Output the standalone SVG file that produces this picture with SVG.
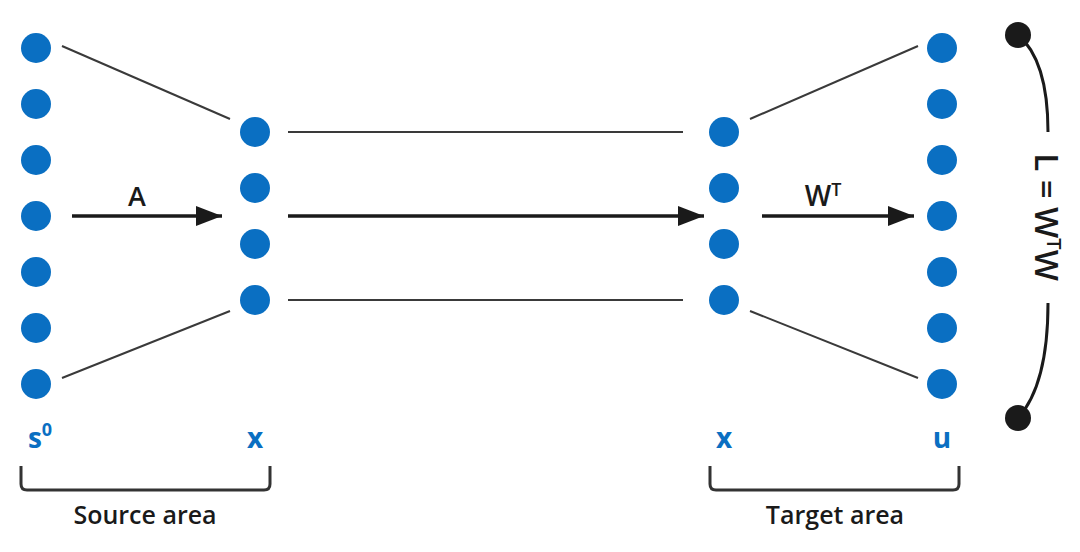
<svg xmlns="http://www.w3.org/2000/svg" width="1080" height="552" viewBox="0 0 1080 552">
<defs>
<style>
.n{fill:#0a6fc2}
.thin{stroke:#3a3a3a;stroke-width:2;fill:none}
.arr{stroke:#1a1a1a;stroke-width:3.5;fill:none}
.blk{stroke:#1a1a1a;stroke-width:3;fill:none}
.lab{font-family:"Open Sans","Liberation Sans",sans-serif;font-weight:bold;fill:#0a6fc2;font-size:28px;text-anchor:middle}
.t{font-family:"Open Sans","Liberation Sans",sans-serif;font-weight:600;fill:#1a1a1a;font-size:25px;text-anchor:middle}
.br{stroke:#333;stroke-width:3;fill:none}
</style>
<marker id="ah2" viewBox="0 0 26 20" refX="26" refY="10" markerWidth="26" markerHeight="20" orient="auto" markerUnits="userSpaceOnUse">
<path d="M0,0 L26,10 L0,20 z" fill="#1a1a1a"/>
</marker>
</defs>
<rect width="1080" height="552" fill="#fff"/>
<g id="connectors">
<line class="thin" x1="62" y1="46" x2="230" y2="119"/>
<line class="thin" x1="62" y1="378" x2="230" y2="311"/>
<line class="thin" x1="288" y1="132" x2="683" y2="132"/>
<line class="thin" x1="288" y1="300" x2="683" y2="300"/>
<line class="thin" x1="750" y1="119" x2="918" y2="46"/>
<line class="thin" x1="750" y1="311" x2="918" y2="378"/>
<line class="arr" x1="72" y1="216" x2="222" y2="216" marker-end="url(#ah2)"/>
<line class="arr" x1="288" y1="216" x2="704" y2="216" marker-end="url(#ah2)"/>
<line class="arr" x1="762" y1="216" x2="914" y2="216" marker-end="url(#ah2)"/>
<path class="blk" d="M1018,35 Q1048,60 1048,132"/>
<path class="blk" d="M1048,303 Q1048,385 1018,418"/>
</g>
<g id="source-s0">
<circle class="n" cx="36" cy="48" r="15"/>
<circle class="n" cx="36" cy="104" r="15"/>
<circle class="n" cx="36" cy="160" r="15"/>
<circle class="n" cx="36" cy="216" r="15"/>
<circle class="n" cx="36" cy="272" r="15"/>
<circle class="n" cx="36" cy="328" r="15"/>
<circle class="n" cx="36" cy="384" r="15"/>
<text class="lab" x="40" y="448">s<tspan font-size="18" dy="-12">0</tspan></text>
</g>
<g id="source-x">
<circle class="n" cx="255" cy="132" r="15"/>
<circle class="n" cx="255" cy="188" r="15"/>
<circle class="n" cx="255" cy="244" r="15"/>
<circle class="n" cx="255" cy="300" r="15"/>
<text class="lab" x="255" y="448">x</text>
</g>
<g id="target-x">
<circle class="n" cx="724" cy="132" r="15"/>
<circle class="n" cx="724" cy="188" r="15"/>
<circle class="n" cx="724" cy="244" r="15"/>
<circle class="n" cx="724" cy="300" r="15"/>
<text class="lab" x="724" y="448">x</text>
</g>
<g id="target-u">
<circle class="n" cx="942" cy="48" r="15"/>
<circle class="n" cx="942" cy="104" r="15"/>
<circle class="n" cx="942" cy="160" r="15"/>
<circle class="n" cx="942" cy="216" r="15"/>
<circle class="n" cx="942" cy="272" r="15"/>
<circle class="n" cx="942" cy="328" r="15"/>
<circle class="n" cx="942" cy="384" r="15"/>
<text class="lab" x="942" y="448">u</text>
</g>
<g id="labels">
<text class="t" x="137" y="206" style="font-size:27px">A</text>
<text class="t" x="823" y="206" style="font-size:28px">W<tspan font-size="18" dy="-10">T</tspan></text>
</g>
<g id="L-bracket">
<circle cx="1018" cy="35" r="13" fill="#1a1a1a"/>
<circle cx="1018" cy="418" r="13" fill="#1a1a1a"/>
<text class="t" style="font-size:33px" transform="translate(1035,217) rotate(90)" x="0" y="0">L = W<tspan font-size="20" dy="-12">T</tspan><tspan dy="12">W</tspan></text>
</g>
<g id="source-area">
<path class="br" d="M21,466 V484 Q21,490 27,490 H264 Q270,490 270,484 V466"/>
<text class="t" x="145" y="524">Source area</text>
</g>
<g id="target-area">
<path class="br" d="M710,466 V484 Q710,490 716,490 H953 Q959,490 959,484 V466"/>
<text class="t" x="835" y="524">Target area</text>
</g>
</svg>
